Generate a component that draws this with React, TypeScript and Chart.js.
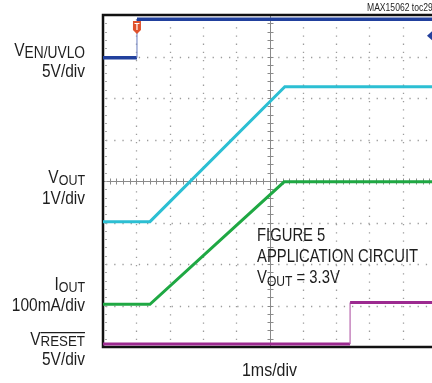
import { useEffect, useRef } from 'react';
import { Chart, registerables } from 'chart.js';

Chart.register(...registerables);

// Time axis: 0..10 div (1ms/div); vertical: 0..8 div
const venT = [0, 1.02, 1.02, 10];
const venV = [6.97, 6.97, 7.9, 7.9];
const voutT = [0, 1.41, 5.46, 10];
const voutV = [3.02, 3.02, 6.27, 6.27];
const ioutT = [0, 1.41, 5.44, 10];
const ioutV = [1.03, 1.03, 3.98, 3.98];
const resetT = [0, 7.42, 7.42, 10];
const resetV = [0.07, 0.07, 1.07, 1.07];

const xDivs = [0, 1, 2, 3, 4, 5, 6, 7, 8, 9, 10];
const yDivs = [0, 1, 2, 3, 4, 5, 6, 7, 8];

const FONT = '"Liberation Sans", Arial, sans-serif';
const TXT = '#1e1e1e';

const pts = (t: number[], v: number[]) => t.map((x, i) => ({ x, y: v[i] }));

type Part = { t: string; size: number; dy: number; over?: boolean };

function measure(ctx: CanvasRenderingContext2D, parts: Part[], sx: number) {
  let w = 0;
  for (const p of parts) {
    ctx.font = `${p.size}px ${FONT}`;
    w += ctx.measureText(p.t).width * sx;
  }
  return w;
}

function drawParts(
  ctx: CanvasRenderingContext2D,
  parts: Part[],
  x: number,
  y: number,
  sx: number,
  align: 'left' | 'right' | 'center'
) {
  const w = measure(ctx, parts, sx);
  let cx = align === 'right' ? x - w : align === 'center' ? x - w / 2 : x;
  ctx.save();
  ctx.fillStyle = TXT;
  ctx.strokeStyle = TXT;
  ctx.textAlign = 'left';
  ctx.textBaseline = 'alphabetic';
  for (const p of parts) {
    ctx.font = `${p.size}px ${FONT}`;
    const pw = ctx.measureText(p.t).width * sx;
    ctx.save();
    ctx.translate(cx, y + p.dy);
    ctx.scale(sx, 1);
    ctx.fillText(p.t, 0, 0);
    ctx.restore();
    if (p.over) {
      const top = y + p.dy - p.size * 0.73 - 2;
      ctx.lineWidth = 1.2;
      ctx.beginPath();
      ctx.moveTo(cx, top);
      ctx.lineTo(cx + pw, top);
      ctx.stroke();
    }
    cx += pw;
  }
  ctx.restore();
}

const scopePlugin = {
  id: 'scope',
  beforeDatasetsDraw(chart: any) {
    const ctx: CanvasRenderingContext2D = chart.ctx;
    const xs = chart.scales.x;
    const ys = chart.scales.y;
    const L = xs.getPixelForValue(0);
    const R = xs.getPixelForValue(10);
    const T = ys.getPixelForValue(8);
    const B = ys.getPixelForValue(0);
    ctx.save();
    // dotted grid
    ctx.strokeStyle = '#9c9c9c';
    ctx.lineWidth = 1.3;
    ctx.setLineDash([1.3, 6.9]);
    for (const d of xDivs) {
      if (d === 0 || d === 10 || d === 5) continue;
      const px = Math.round(xs.getPixelForValue(d)) + 0.5;
      ctx.beginPath();
      ctx.moveTo(px, T + 4);
      ctx.lineTo(px, B);
      ctx.stroke();
    }
    for (const d of yDivs) {
      if (d === 0 || d === 8 || d === 4) continue;
      const py = Math.round(ys.getPixelForValue(d)) + 0.5;
      ctx.beginPath();
      ctx.moveTo(L + 3, py);
      ctx.lineTo(R, py);
      ctx.stroke();
    }
    ctx.setLineDash([]);
    // center cross with minor ticks
    const cx = Math.round(xs.getPixelForValue(5)) + 0.5;
    const cy = Math.round(ys.getPixelForValue(4)) + 0.5;
    ctx.strokeStyle = '#8a8a8a';
    ctx.lineWidth = 1;
    ctx.beginPath();
    ctx.moveTo(L, cy);
    ctx.lineTo(R, cy);
    ctx.moveTo(cx, T);
    ctx.lineTo(cx, B);
    ctx.stroke();
    ctx.beginPath();
    for (let i = 1; i < 50; i++) {
      const px = Math.round(xs.getPixelForValue(i * 0.2)) + 0.5;
      ctx.moveTo(px, cy - 3);
      ctx.lineTo(px, cy + 3);
    }
    for (let i = 1; i < 40; i++) {
      const py = Math.round(ys.getPixelForValue(i * 0.2)) + 0.5;
      ctx.moveTo(cx - 3, py);
      ctx.lineTo(cx + 3, py);
    }
    ctx.stroke();
    // small ticks along left frame
    ctx.strokeStyle = '#a8a8a8';
    ctx.beginPath();
    for (let i = 1; i < 40; i++) {
      const py = Math.round(ys.getPixelForValue(i * 0.2)) + 0.5;
      ctx.moveTo(L + 2, py);
      ctx.lineTo(L + 4, py);
    }
    ctx.stroke();
    // frame
    ctx.strokeStyle = '#111';
    ctx.lineWidth = 2.5;
    ctx.beginPath();
    ctx.moveTo(R + 5, T);
    ctx.lineTo(L, T);
    ctx.lineTo(L, B);
    ctx.lineTo(R + 5, B);
    ctx.stroke();
    ctx.restore();
  },
  afterDatasetsDraw(chart: any) {
    const ctx: CanvasRenderingContext2D = chart.ctx;
    const xs = chart.scales.x;
    const ys = chart.scales.y;
    const L = xs.getPixelForValue(0);
    const T = ys.getPixelForValue(8);
    const B = ys.getPixelForValue(0);
    ctx.save();
    // trigger marker
    const tx = xs.getPixelForValue(venT[1]);
    ctx.fillStyle = '#e0522c';
    ctx.beginPath();
    ctx.moveTo(tx - 4, T + 6);
    ctx.lineTo(tx + 4, T + 6);
    ctx.lineTo(tx + 4, T + 15);
    ctx.lineTo(tx, T + 19);
    ctx.lineTo(tx - 4, T + 15);
    ctx.closePath();
    ctx.fill();
    ctx.strokeStyle = '#fff';
    ctx.lineWidth = 1.2;
    ctx.beginPath();
    ctx.moveTo(tx - 2.5, T + 8.5);
    ctx.lineTo(tx + 2.5, T + 8.5);
    ctx.moveTo(tx, T + 8.5);
    ctx.lineTo(tx, T + 15);
    ctx.stroke();
    // channel marker on right
    const my = ys.getPixelForValue(7.5);
    ctx.fillStyle = '#24409c';
    ctx.beginPath();
    ctx.moveTo(427, my);
    ctx.lineTo(432, my - 4.5);
    ctx.lineTo(432, my + 4.5);
    ctx.closePath();
    ctx.fill();
    ctx.restore();

    // left channel labels
    const lx = L - 18;
    const S = 18;
    const SS = 14.5;
    const sx = 0.86;
    drawParts(ctx, [{ t: 'V', size: S, dy: 0 }, { t: 'EN/UVLO', size: 16, dy: 1.5 }], lx, 56, sx, 'right');
    drawParts(ctx, [{ t: '5V/div', size: S, dy: 0 }], lx, 76.5, sx, 'right');
    drawParts(ctx, [{ t: 'V', size: S, dy: 0 }, { t: 'OUT', size: SS, dy: 2 }], lx, 183, sx, 'right');
    drawParts(ctx, [{ t: '1V/div', size: S, dy: 0 }], lx, 204, sx, 'right');
    drawParts(ctx, [{ t: 'I', size: S, dy: 0 }, { t: 'OUT', size: SS, dy: 2 }], lx, 290, sx, 'right');
    drawParts(ctx, [{ t: '100mA/div', size: S, dy: 0 }], lx, 310.5, sx, 'right');
    drawParts(ctx, [{ t: 'V', size: S, dy: 0 }, { t: 'RESET', size: SS + 1, dy: 1, over: true }], lx, 345, sx, 'right');
    drawParts(ctx, [{ t: '5V/div', size: S, dy: 0 }], lx, 365, sx, 'right');

    // time base
    drawParts(ctx, [{ t: '1ms/div', size: S, dy: 0 }], xs.getPixelForValue(5), B + 29, 0.89, 'center');
    // figure id
    drawParts(ctx, [{ t: 'MAX15062 toc29', size: 11, dy: 0 }], 367, T - 4, 0.78, 'left');

    // annotation
    const ax = 257;
    const AS = 19;
    const asx = 0.78;
    drawParts(ctx, [{ t: 'FIGURE 5', size: AS, dy: 0 }], ax, 241, asx, 'left');
    drawParts(ctx, [{ t: 'APPLICATION CIRCUIT', size: AS, dy: 0 }], ax, 262, asx, 'left');
    drawParts(ctx, [{ t: 'V', size: AS, dy: 0 }, { t: 'OUT', size: 15.5, dy: 2.5 }, { t: ' = 3.3V', size: AS, dy: 0 }], ax, 283, asx, 'left');
  },
};

export default function App() {
  const ref = useRef<HTMLCanvasElement | null>(null);
  useEffect(() => {
    if (!ref.current) return;
    const mk = (label: string, t: number[], v: number[], color: string, thin: string, w: number) => ({
      label,
      data: pts(t, v),
      borderColor: color,
      backgroundColor: color,
      borderWidth: w,
      pointRadius: 0,
      tension: 0,
      fill: false,
      segment: {
        borderWidth: (c: any) => (c.p0.parsed.x === c.p1.parsed.x ? 1.2 : w),
        borderColor: (c: any) => (c.p0.parsed.x === c.p1.parsed.x ? thin : color),
      },
    });
    const chart = new Chart(ref.current, {
      type: 'line',
      data: {
        datasets: [
          mk('VEN/UVLO', venT, venV, '#21409d', '#7f8fc8', 3.5),
          mk('VOUT', voutT, voutV, '#2cbfd3', '#2cbfd3', 3),
          mk('IOUT', ioutT, ioutV, '#1fa843', '#1fa843', 3),
          mk('VRESET', resetT, resetV, '#9c2a90', '#b866ae', 3),
        ],
      },
      options: {
        responsive: false,
        animation: false,
        devicePixelRatio: 1,
        layout: { padding: { left: 103, top: 15, right: 4, bottom: 36 } },
        plugins: { legend: { display: false }, tooltip: { enabled: false } },
        events: [],
        scales: {
          x: { type: 'linear', min: 0, max: 10, display: false },
          y: { type: 'linear', min: 0, max: 8, display: false },
        },
      },
      plugins: [scopePlugin],
    } as any);
    return () => chart.destroy();
  }, []);
  return (
    <div style={{ position: 'absolute', left: 0, top: 0, width: 432, height: 383, overflow: 'hidden', background: '#fff' }}>
      <canvas ref={ref} width={440} height={383} style={{ display: 'block' }} />
    </div>
  );
}
